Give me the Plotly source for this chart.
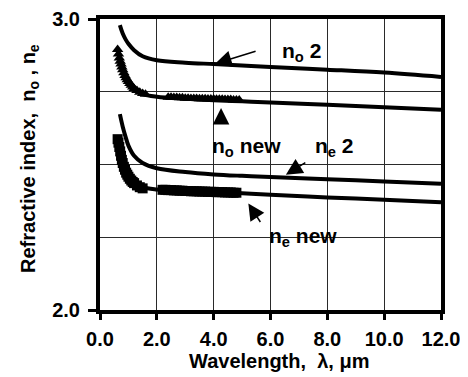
import plotly.graph_objects as go

# ---- data ----
lam_no2 = [0.7, 0.8, 0.9, 1.0, 1.2, 1.5, 2.0, 3.0, 4.0, 5.0, 6.0, 8.0, 10.0, 12.0]
n_no2 = [2.979, 2.95, 2.93, 2.915, 2.893, 2.872, 2.858, 2.850, 2.845, 2.840, 2.835, 2.826, 2.816, 2.801]

lam_nonew_line = [0.65, 0.7, 0.8, 0.9, 1.0, 1.2, 1.5, 2.0, 3.0, 4.0, 5.0, 6.0, 8.0, 10.0, 12.0]
n_nonew_line = [2.885, 2.86, 2.825, 2.80, 2.78, 2.758, 2.742, 2.733, 2.726, 2.721, 2.717, 2.713, 2.705, 2.697, 2.688]

lam_nonew_pts = [0.62, 0.65, 0.68, 0.71, 0.74, 0.77, 0.8, 0.84, 0.88, 0.92, 0.96, 1.0, 1.05, 1.1,
                 1.15, 1.2, 1.3, 1.4, 1.5, 1.6,
                 2.4, 2.5, 2.6, 2.7, 2.8, 2.9, 3.0, 3.1, 3.2, 3.3, 3.4, 3.5, 3.6, 3.7, 3.8, 3.9,
                 4.0, 4.1, 4.2, 4.3, 4.4, 4.5, 4.6, 4.7, 4.8, 4.9]
n_nonew_pts = [2.895, 2.88, 2.866, 2.855, 2.845, 2.835, 2.826, 2.815, 2.806, 2.798, 2.791, 2.785,
               2.778, 2.772, 2.766, 2.761, 2.754, 2.748, 2.744, 2.741,
               2.731, 2.731, 2.730, 2.730, 2.729, 2.729, 2.728, 2.728, 2.727, 2.727, 2.727, 2.726,
               2.726, 2.726, 2.725, 2.725, 2.725, 2.724, 2.724, 2.724, 2.723, 2.723, 2.723, 2.722,
               2.722, 2.722]

lam_ne2 = [0.7, 0.8, 0.9, 1.0, 1.2, 1.5, 2.0, 3.0, 4.0, 5.0, 6.0, 8.0, 10.0, 12.0]
n_ne2 = [2.673, 2.63, 2.595, 2.565, 2.53, 2.505, 2.487, 2.474, 2.466, 2.461, 2.457, 2.449, 2.442, 2.434]

lam_nenew_line = [0.65, 0.7, 0.8, 0.9, 1.0, 1.2, 1.5, 2.0, 3.0, 4.0, 5.0, 6.0, 8.0, 10.0, 12.0]
n_nenew_line = [2.575, 2.545, 2.505, 2.478, 2.46, 2.44, 2.422, 2.414, 2.41, 2.406, 2.401, 2.396, 2.387, 2.379, 2.370]

lam_nenew_pts = [0.62, 0.65, 0.68, 0.71, 0.74, 0.77, 0.8, 0.84, 0.88, 0.92, 0.96, 1.0, 1.05, 1.1,
                 1.15, 1.2, 1.3, 1.4, 1.5,
                 2.2, 2.3, 2.4, 2.5, 2.6, 2.7, 2.8, 2.9, 3.0, 3.1, 3.2, 3.3, 3.4, 3.5, 3.6, 3.7,
                 3.8, 3.9, 4.0, 4.1, 4.2, 4.3, 4.4, 4.5, 4.6, 4.7, 4.8]
n_nenew_pts = [2.587, 2.575, 2.56, 2.545, 2.53, 2.516, 2.505, 2.492, 2.482, 2.472, 2.465, 2.458,
               2.451, 2.445, 2.44, 2.436, 2.428, 2.422, 2.418,
               2.413, 2.413, 2.412, 2.412, 2.411, 2.411, 2.410, 2.410, 2.409, 2.409, 2.408, 2.408,
               2.408, 2.407, 2.407, 2.407, 2.406, 2.406, 2.406, 2.405, 2.405, 2.405, 2.404, 2.404,
               2.404, 2.403, 2.403]

x_ticks = [0, 2, 4, 6, 8, 10, 12]
x_ticklabels = ["0.0", "2.0", "4.0", "6.0", "8.0", "10.0", "12.0"]
y_ticks = [2.0, 3.0]
y_ticklabels = ["2.0", "3.0"]

FONT = "Liberation Sans, Arial, sans-serif"

# the page body adds an 8 px offset, so the figure is 8 px smaller on each axis
W, H = 460, 369
ml, mr, mt, mb = 92, 27, 11, 67
pw, ph = W - ml - mr, H - mt - mb

fig = go.Figure()
line_style = dict(color="black", width=4, shape="spline")

fig.add_trace(go.Scatter(x=lam_no2, y=n_no2, mode="lines", line=line_style, name="no 2"))
fig.add_trace(go.Scatter(x=lam_nonew_line, y=n_nonew_line, mode="lines", line=line_style, name="no new"))
fig.add_trace(go.Scatter(x=lam_nonew_pts, y=n_nonew_pts, mode="markers",
                         marker=dict(symbol="triangle-up", size=10, color="black"), name="no new pts"))
fig.add_trace(go.Scatter(x=lam_ne2, y=n_ne2, mode="lines", line=line_style, name="ne 2"))
fig.add_trace(go.Scatter(x=lam_nenew_line, y=n_nenew_line, mode="lines", line=line_style, name="ne new"))
fig.add_trace(go.Scatter(x=lam_nenew_pts, y=n_nenew_pts, mode="markers",
                         marker=dict(symbol="square", size=10, color="black"), name="ne new pts"))

lab_font = dict(family=FONT, size=21, color="black", weight="bold")
arrow = dict(showarrow=True, arrowhead=2, arrowsize=2.2, arrowwidth=1.5, arrowcolor="black",
             xref="x", yref="y", axref="pixel", ayref="pixel")

annotations = [
    # arrows
    dict(x=4.05, y=2.846, ax=42, ay=-13, text="", **arrow),
    dict(x=4.26, y=2.694, ax=0, ay=17, text="", **arrow),
    dict(x=6.54, y=2.465, ax=21, ay=-13, text="", **arrow),
    dict(x=5.22, y=2.366, ax=13, ay=20, text="", **arrow),
    # labels
    dict(x=6.33, y=2.886, text="n<sub>o</sub> 2", showarrow=False, xanchor="left", yanchor="middle", font=lab_font),
    dict(x=3.87, y=2.559, text="n<sub>o</sub> new", showarrow=False, xanchor="left", yanchor="middle", font=lab_font),
    dict(x=7.49, y=2.559, text="n<sub>e</sub> 2", showarrow=False, xanchor="left", yanchor="middle", font=lab_font),
    dict(x=5.88, y=2.250, text="n<sub>e</sub> new", showarrow=False, xanchor="left", yanchor="middle", font=lab_font),
    # axis titles (pixel positions converted to paper coords)
    dict(x=(271 - ml) / pw, y=1 - (353 - mt) / ph, xref="paper", yref="paper",
         text="Wavelength,  λ, μm", showarrow=False,
         xanchor="center", yanchor="middle", font=dict(family=FONT, size=20, color="black", weight="bold")),
    dict(x=(21 - ml) / pw, y=1 - (151 - mt) / ph, xref="paper", yref="paper",
         text="Refractive index,  n<sub>o</sub> , n<sub>e</sub>", showarrow=False, textangle=-90,
         xanchor="center", yanchor="middle", font=dict(family=FONT, size=20, color="black", weight="bold")),
]

fig.update_layout(
    width=W, height=H,
    margin=dict(l=ml, r=mr, t=mt, b=mb, autoexpand=False),
    paper_bgcolor="white", plot_bgcolor="white",
    showlegend=False,
    font=dict(family=FONT, size=20, color="black", weight="bold"),
    xaxis=dict(range=[0, 12], tickvals=x_ticks, ticktext=x_ticklabels, automargin=False,
               showline=True, linecolor="black", linewidth=4, mirror=True,
               ticks="outside", ticklen=6, tickwidth=3, tickcolor="black",
               ticklabelstandoff=2,
               showgrid=True, gridcolor="#2a2a2a", gridwidth=1, zeroline=False,
               tickfont=dict(family=FONT, size=20, color="black", weight="bold")),
    yaxis=dict(range=[2.0, 3.0], tickvals=y_ticks, ticktext=y_ticklabels, automargin=False,
               showline=True, linecolor="black", linewidth=4, mirror=True,
               ticks="outside", ticklen=8, tickwidth=3, tickcolor="black",
               ticklabelstandoff=4,
               showgrid=False, zeroline=False,
               minor=dict(dtick=0.25, showgrid=True, gridcolor="#2a2a2a", gridwidth=1, ticks=""),
               tickfont=dict(family=FONT, size=20, color="black", weight="bold")),
    annotations=annotations,
)

fig.write_html("out.html")
